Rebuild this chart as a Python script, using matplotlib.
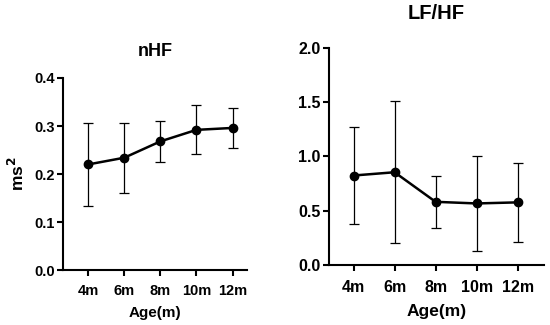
#!/usr/bin/env python3
"""nHF and LF/HF by age, mean +/- SD, two panels."""
import matplotlib

matplotlib.use("Agg")
import matplotlib.pyplot as plt

ages = ["4m", "6m", "8m", "10m", "12m"]

nhf_mean = [0.220, 0.234, 0.268, 0.292, 0.296]
nhf_sd = [0.086, 0.073, 0.042, 0.051, 0.041]

lfhf_mean = [0.825, 0.855, 0.583, 0.568, 0.578]
lfhf_sd = [0.446, 0.652, 0.242, 0.435, 0.364]

nhf_ticks = [0.0, 0.1, 0.2, 0.3, 0.4]
lfhf_ticks = [0.0, 0.5, 1.0, 1.5, 2.0]

plt.rcParams["font.family"] = ["Liberation Sans", "DejaVu Sans"]
plt.rcParams["font.weight"] = "bold"
plt.rcParams["axes.labelweight"] = "bold"
plt.rcParams["axes.titleweight"] = "bold"


def panel(ax, mean, sd, yticks, title, xlim, tick_fs, title_fs, title_pad,
          label_fs, label_pad, xpad):
    x = list(range(len(ages)))
    ax.errorbar(x, mean, yerr=sd, fmt="o-", color="black", lw=1.8, ms=6,
                elinewidth=0.9, capsize=3.6, capthick=0.9, zorder=3)
    ax.set_xlim(*xlim)
    ax.set_ylim(yticks[0], yticks[-1])
    ax.set_yticks(yticks)
    ax.set_yticklabels([f"{t:.1f}" for t in yticks])
    ax.set_xticks(x)
    ax.set_xticklabels(ages)
    ax.set_xlabel("Age(m)", fontsize=label_fs, labelpad=label_pad)
    ax.set_title(title, fontsize=title_fs, pad=title_pad)
    for s in ("top", "right"):
        ax.spines[s].set_visible(False)
    for s in ("left", "bottom"):
        ax.spines[s].set_linewidth(1.5)
    ax.tick_params(axis="both", labelsize=tick_fs, width=1.5, length=4)
    ax.tick_params(axis="x", pad=xpad)
    ax.tick_params(axis="y", pad=2)
    for lbl in ax.get_xticklabels() + ax.get_yticklabels():
        lbl.set_fontweight("bold")


fig = plt.figure(figsize=(5.5, 3.25), dpi=100)
axL = fig.add_axes([0.1145, 0.169, 0.3345, 0.591])
axR = fig.add_axes([0.598, 0.184, 0.391, 0.669])

panel(axL, nhf_mean, nhf_sd, nhf_ticks, "nHF", (-0.7, 4.4),
      tick_fs=10.5, title_fs=13, title_pad=16, label_fs=11, label_pad=6, xpad=6)
axL.set_ylabel("ms$^\\mathbf{2}$", fontsize=12.5, labelpad=5)
panel(axR, lfhf_mean, lfhf_sd, lfhf_ticks, "LF/HF", (-0.6, 4.64),
      tick_fs=11.5, title_fs=14.5, title_pad=21, label_fs=12.5, label_pad=6, xpad=7)

fig.savefig("out.png", dpi=100)
